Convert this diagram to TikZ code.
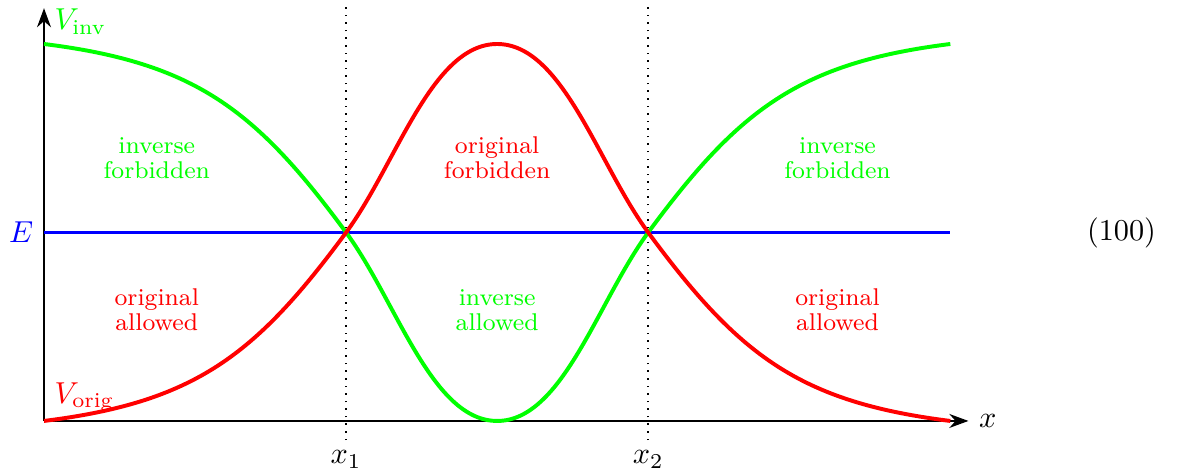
\documentclass[tikz,border=0pt]{standalone}
\usetikzlibrary{arrows.meta}
\usepackage{amsmath}

\begin{document}
\begin{tikzpicture}[
  x=1.169cm,y=1.094cm,
  axis/.style={line width=0.65pt,-{Stealth[length=6.3pt,width=4.6pt]}},
  curve/.style={line width=1.3pt},
  guide/.style={dotted,line width=0.5pt},
  lbl/.style={font={\fontsize{8pt}{8.2pt}\selectfont},align=center}
]
\useasboundingbox (-0.437,-0.541) rectangle (11.301,4.467);
\coordinate (O) at (0,0);
\coordinate (xend) at (9.18,0);
\coordinate (yend) at (0,4.38);
\coordinate (E0) at (0,2);
\coordinate (E1) at (9,2);
\coordinate (t1) at (3,4.41);
\coordinate (t2) at (6,4.41);

% axes and guides
\draw[axis] (O) -- (xend);
\draw[axis] (O) -- (yend);
\node[right] (xlab) at (xend) {$x$};
\node (lx1) at (3,-0.41) {$x_1$};
\node (lx2) at (6,-0.41) {$x_2$};
\draw[guide] (lx1.north) -- (t1);
\draw[guide] (lx2.north) -- (t2);

% energy level
\node[left,blue] (E) at (E0) {$E$};
\draw[curve,blue] (E0) -- (E1);
\node (eqn) at (10.7,2) {(100)};

% potentials
\draw[curve,green] (0,4) .. controls (1.5,3.8) and (2.1,3.305) .. (3,2)
  .. controls (3.5,1.275) and (3.85,0) .. (4.5,0)
  .. controls (5.15,0) and (5.5,1.275) .. (6,2)
  .. controls (6.9,3.305) and (7.5,3.8) .. (9,4);
\draw[curve,red] (O) .. controls (1.5,0.2) and (2.1,0.695) .. (3,2)
  .. controls (3.5,2.725) and (3.85,4) .. (4.5,4)
  .. controls (5.15,4) and (5.5,2.725) .. (6,2)
  .. controls (6.9,0.695) and (7.5,0.2) .. (9,0);
\node[anchor=base west,green] (vinv) at (0,4.15) {$V_{\text{inv}}$};
\node[anchor=base west,red] (vorig) at (0,0.19) {$V_{\text{orig}}$};

% regions
\node[lbl,green] (if1) at (1.12,2.79) {inverse\\forbidden};
\node[lbl,red] (of) at (4.5,2.79) {original\\forbidden};
\node[lbl,green] (if2) at (7.88,2.79) {inverse\\forbidden};
\node[lbl,red] (oa1) at (1.12,1.18) {original\\allowed};
\node[lbl,green] (ia) at (4.5,1.18) {inverse\\allowed};
\node[lbl,red] (oa2) at (7.88,1.18) {original\\allowed};
\end{tikzpicture}
\end{document}
